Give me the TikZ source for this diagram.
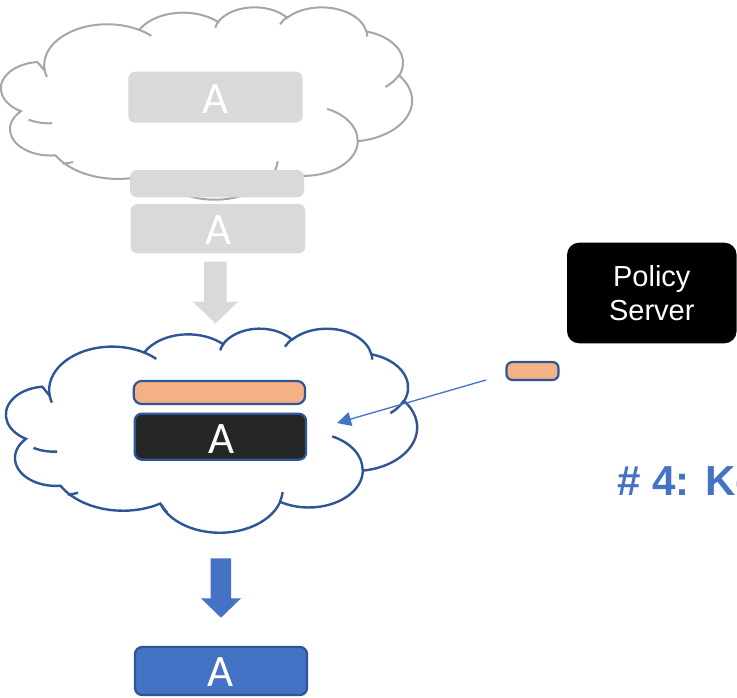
\documentclass[tikz,border=0pt]{standalone}
\usepackage{fontspec}
\setmainfont{Liberation Sans}
\newfontfamily\carlito{Carlito}
\usetikzlibrary{arrows.meta}

\definecolor{cloudgray}{HTML}{A6A6A6}
\definecolor{boxgray}{HTML}{D9D9D9}
\definecolor{navy}{HTML}{2F5597}
\definecolor{accent}{HTML}{4472C4}
\definecolor{peach}{HTML}{F4B183}
\definecolor{charcoal}{HTML}{262626}

% Elliptic arc in the style of a DrawingML arcTo: radii wR, hR and
% start/sweep angles in degrees, measured geometrically on the ellipse.
\newcommand\ooarc[4]{%
  \pgfextra{%
    \pgfmathparse{#3}\let\ooS\pgfmathresult
    \pgfmathparse{#3+#4}\let\ooE\pgfmathresult
    \pgfmathparse{atan2(#1*sin(\ooS),#2*cos(\ooS))}\global\let\ooA\pgfmathresult
    \pgfmathparse{atan2(#1*sin(\ooE),#2*cos(\ooE))}\global\let\ooB\pgfmathresult
    \pgfmathparse{mod(\ooB-\ooA+720,360)}\global\let\ooD\pgfmathresult
  }%
  arc[x radius=#1, y radius=#2, start angle=\ooA, delta angle=\ooD]%
}

% Cloud outline on a 43.2 x 43.2 grid plus its inner bump strokes
\newcommand\ooCloud[1]{%
  \draw[#1] (3.900,14.370)
    \ooarc{6.753}{9.190}{-190.48748}{123.78053}
    \ooarc{5.333}{7.267}{-144.10238}{89.94523}
    \ooarc{4.365}{5.945}{-145.80792}{99.72302}
    \ooarc{4.857}{6.595}{-130.98607}{117.24173}
    \ooarc{5.333}{7.273}{-78.70888}{109.02692}
    \ooarc{6.775}{9.220}{-46.26725}{130.269}
    \ooarc{5.785}{7.867}{0.62502}{114.03333}
    \ooarc{6.752}{9.215}{22.45393}{131.99677}
    \ooarc{7.720}{10.543}{66.24263}{75.71102}
    \ooarc{4.360}{5.918}{-274.94208}{146.73557}
    \ooarc{4.345}{5.945}{-246.8285}{152.51885}
    -- cycle;
  \draw[#1, fill=none]
    (4.693,26.177) \ooarc{4.345}{5.945}{86.742}{26.4295}
    (6.928,34.899) \ooarc{4.360}{5.918}{73.61047}{11.44747}
    (16.478,39.090) \ooarc{6.752}{9.215}{137.62415}{14.0811}
    (28.827,34.751) \ooarc{6.752}{9.215}{6.45327}{15.99835}
    (34.129,22.954) \ooarc{5.785}{7.867}{-70.29235}{70.91737}
    (41.798,15.354) \ooarc{5.333}{7.273}{30.31803}{27.7515}
    (38.324,5.426) \ooarc{4.857}{6.595}{-13.74433}{14.8589}
    (29.078,3.952) \ooarc{4.857}{6.595}{-149.18145}{18.19537}
    (22.141,4.720) \ooarc{4.365}{5.945}{-163.49427}{17.68635}
    (14.000,5.192) \ooarc{6.753}{9.190}{-66.70695}{12.31935}
    (4.127,15.789) \ooarc{6.753}{9.190}{157.65435}{11.85817};
}

\tikzset{
  graycloud/.style={draw=cloudgray, line width=2pt, fill=white},
  bluecloud/.style={draw=navy, line width=2.4pt, fill=white},
  softbox/.style={fill=boxgray, rounded corners=7pt, inner sep=0pt, outer sep=0pt},
  rimbox/.style={draw=navy, line width=2.2pt, rounded corners=7pt, inner sep=0pt, outer sep=0pt},
  letterA/.style={text=white, font=\carlito\fontsize{45}{54}\selectfont, inner sep=0pt},
}

\begin{document}
\begin{tikzpicture}[x=1pt, y=-1pt]
\useasboundingbox (0,0) rectangle (737,697);
\clip (0,0) rectangle (737,697);

% upper cloud (grey)
\begin{scope}[shift={(8.3,6.7)}, x=1pt, y=1pt, xscale=9.345, yscale=-4.451]
  \ooCloud{graycloud}
\end{scope}

% grey boxes
\node[softbox, minimum width=174.4pt, minimum height=51pt] (ga1) at (215.5,97.2) {};
\node[letterA] (ta1) at (215.5,98.7) {A};
\node[softbox, minimum width=174pt, minimum height=27.3pt] (gstrip) at (217,183.7) {};
\node[softbox, minimum width=174.6pt, minimum height=49.3pt] (ga2) at (218,228.7) {};
\node[letterA] (ta2) at (218.2,230) {A};

% grey block arrow
\fill[boxgray] (204,261.7) -- (226.7,261.7) -- (226.7,301.7) -- (238.3,301.7)
  -- (215.5,323.3) -- (192.7,301.7) -- (204,301.7) -- cycle;

% lower cloud (blue)
\begin{scope}[shift={(13.3,328)}, x=1pt, y=1pt, xscale=9.345, yscale=-4.722]
  \ooCloud{bluecloud}
\end{scope}

% boxes inside the lower cloud
\node[rimbox, fill=peach, rounded corners=8pt, minimum width=171.3pt, minimum height=23pt] (ostrip) at (219.4,392.5) {};
\node[rimbox, fill=charcoal, minimum width=171.3pt, minimum height=46pt] (ba) at (220.4,436.7) {};
\node[letterA] (tba) at (221.3,439) {A};

% policy server and token
\node[fill=black, rounded corners=12pt, minimum width=169.5pt, minimum height=100.6pt,
      inner sep=0pt, text=white, align=center, font=\fontsize{29}{34.7}\selectfont]
      (policy) at (651.8,293) {Policy\\Server};
\node[rimbox, fill=peach, rounded corners=6pt, minimum width=52pt, minimum height=18pt] (token) at (532.5,371) {};

\coordinate (tokfrom) at (486,380);
\coordinate (tokto) at (337,423);
\draw[accent, line width=1.3pt, -{Triangle[length=14pt, width=14pt]}] (tokfrom) -- (tokto);

% blue block arrow
\fill[accent] (210.5,558.3) -- (231.2,558.3) -- (231.2,598.3) -- (241,598.3)
  -- (221,617.7) -- (201,598.3) -- (210.5,598.3) -- cycle;

% resulting box
\node[rimbox, fill=accent, minimum width=172pt, minimum height=48pt] (fa) at (221,671) {};
\node[letterA] (tfa) at (220.9,672) {A};

% heading
\node[anchor=base west, inner sep=0pt, text=accent, font=\bfseries\fontsize{42}{50}\selectfont]
  (heading) at (617,495.7) {\# 4: Ke};
\end{tikzpicture}
\end{document}
